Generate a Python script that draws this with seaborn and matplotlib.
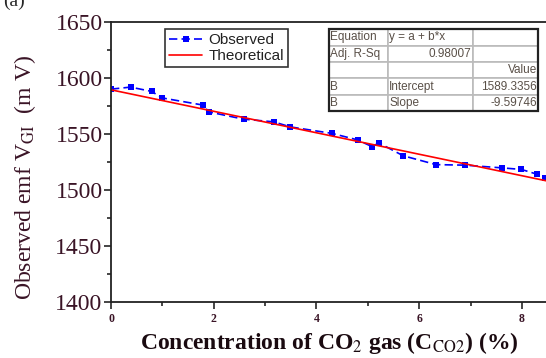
import matplotlib
matplotlib.use('Agg')
import matplotlib.pyplot as plt
import seaborn as sns
import pandas as pd

# observed emf vs CO2 concentration
conc_obs = [0.0, 0.38, 0.79, 0.99, 1.80, 1.90, 2.58, 3.17, 3.49, 4.30,
            4.80, 5.09, 5.21, 5.69, 6.33, 6.90, 7.61, 7.99, 8.29, 8.45]
emf_obs = [1589.9, 1591.7, 1587.9, 1582.1, 1575.6, 1569.6, 1563.1, 1560.7, 1556.2, 1550.4,
           1544.6, 1538.4, 1542.0, 1530.4, 1522.5, 1522.0, 1519.6, 1518.2, 1514.0, 1510.4]

# theoretical (linear fit) line, end points
conc_fit = [0.0, 8.5]
emf_fit = [1589.3, 1507.8]

table_rows = [
    ["Equation", "y = a + b*x", ""],
    ["Adj. R-Sq", "0.98007", ""],
    ["", "", "Value"],
    ["B", "Intercept", "1589.3356"],
    ["B", "Slope", "-9.59746"],
]

sns.set_style("ticks")
plt.rcParams['font.family'] = ['Liberation Serif', 'DejaVu Serif']
plt.rcParams['mathtext.fontset'] = 'stix'

df_obs = pd.DataFrame({"conc": conc_obs, "emf": emf_obs})
df_fit = pd.DataFrame({"conc": conc_fit, "emf": emf_fit})

fig = plt.figure(figsize=(5.46, 3.58), dpi=100)
ax = fig.add_axes([0.2033, 0.157, 0.7967, 0.782])

sns.lineplot(data=df_obs, x="conc", y="emf", ax=ax, sort=False, color="blue",
             linestyle=(0, (5, 2.5)), linewidth=1.2, marker="s", markersize=5,
             markeredgewidth=0, label="Observed")
sns.lineplot(data=df_fit, x="conc", y="emf", ax=ax, sort=False, color="red",
             linewidth=1.2, label="Theoretical")

ax.set_xlim(0, 8.47)
ax.set_ylim(1400, 1650)
ax.set_xticks([0, 2, 4, 6, 8])
ax.set_xticks([1, 3, 5, 7], minor=True)
ax.set_yticks([1400, 1450, 1500, 1550, 1600, 1650])
ax.set_yticks([1425, 1475, 1525, 1575, 1625], minor=True)
ax.spines['right'].set_visible(False)
for s in ax.spines.values():
    s.set_linewidth(1.3)
    s.set_color('#222222')
ax.tick_params(axis='both', which='major', direction='out', length=5, width=1.2)
ax.tick_params(axis='both', which='minor', direction='out', length=3, width=1.2)
ax.tick_params(axis='y', labelsize=17, labelcolor='#3a1426', pad=1)
ax.tick_params(axis='x', labelsize=8.5, labelcolor='#3a1426', pad=3)
for t in ax.get_xticklabels():
    t.set_fontweight('bold')

ax.set_ylabel(r"Observed emf V$_{\rm GI}$  (m V)", fontsize=17, color='#3a1426')
ax.yaxis.set_label_coords(-0.168, 0.444)
ax.set_xlabel(r"Concentration of CO$_{2}$ gas (C$_{\rm CO2}$) (%)", fontsize=17,
              fontweight='bold', color='#1a0a10')
ax.xaxis.set_label_coords(0.503, -0.1)

leg = ax.legend(loc='upper left', bbox_to_anchor=(0.124, 0.974), borderaxespad=0,
                frameon=True, fancybox=False, handlelength=2.2,
                borderpad=0.25, labelspacing=0.15, handletextpad=0.4,
                prop={'family': 'Liberation Sans', 'size': 11})
leg.get_frame().set_edgecolor('black')
leg.get_frame().set_linewidth(1.2)
for t in leg.get_texts():
    t.set_color('#222222')

tab = ax.table(cellText=table_rows, bbox=[0.501, 0.681, 0.481, 0.293],
               colWidths=[0.28, 0.41, 0.31], cellLoc='left')
tab.auto_set_font_size(False)
for (r, c), cell in tab.get_celld().items():
    cell.set_edgecolor('#bbbbbb')
    cell.set_linewidth(1.2)
    cell.get_text().set_fontsize(8.5)
    cell.get_text().set_color('#5a5048')
    cell.get_text().set_family('Liberation Sans')
    cell.PAD = 0.02
    if (r == 1 and c == 1) or (r >= 2 and c == 2):
        cell._loc = 'right'
        cell.get_text().set_ha('right')

# thick outer border of table
ax.add_patch(plt.Rectangle((0.501, 0.681), 0.481, 0.293, transform=ax.transAxes,
                           fill=False, edgecolor='#222222', linewidth=1.6, zorder=10))

fig.text(0.005, 0.995, "(a)", fontsize=14, va='center', ha='left')

fig.savefig("out.png", dpi=100)
